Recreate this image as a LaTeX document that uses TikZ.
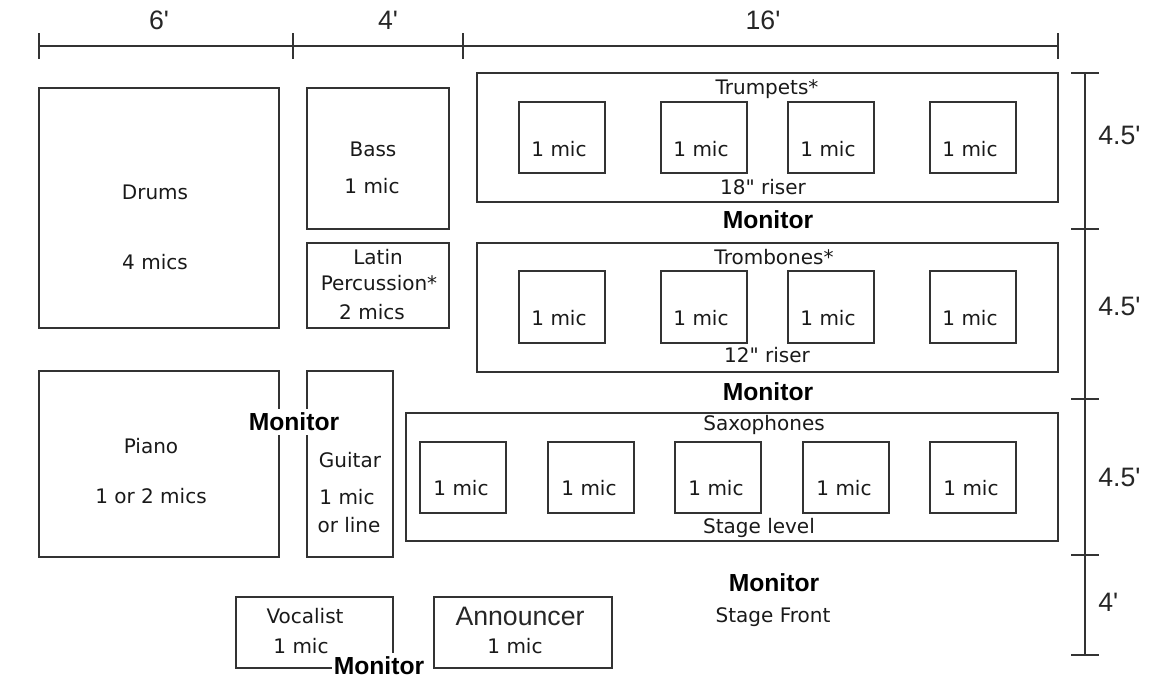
\documentclass[tikz,border=0pt]{standalone}
\usepackage{fontspec}
\setmainfont{DejaVu Sans}
\newfontfamily\arialfont{Liberation Sans}
\usepackage{tikz}
\usetikzlibrary{positioning}

\begin{document}
\begin{tikzpicture}[x=0.75pt, y=-0.75pt,
    wall/.style={draw=black!80, line width=1.1pt},
    txt/.style={inner sep=0pt, text height=10.9pt, text depth=0pt, text=black!90,
      font=\fontsize{15}{18}\selectfont},
    dimtxt/.style={inner sep=0pt, text height=14.3pt, text depth=0pt, text=black!85,
      font=\arialfont\fontsize{20}{24}\selectfont},
    mon/.style={fill=white, inner xsep=1pt, inner ysep=3pt, text height=13.2pt, text depth=0pt,
      font=\arialfont\bfseries\fontsize{18.5}{22}\selectfont}]
  \useasboundingbox (0,0) rectangle (1162,679);
  % Width dimensions
  \draw[wall] (39,46) -- (1058,46);
  \foreach \x in {39,293,463,1058}
    \draw[wall] (\x,33) -- (\x,59);
  \node[dimtxt] (w6) at (159,20) {6\textquotesingle};
  \node[dimtxt] (w4) at (388,20) {4\textquotesingle};
  \node[dimtxt] (w16) at (763,20) {16\textquotesingle};
  % Depth dimensions
  \draw[wall] (1085,73) -- (1085,655);
  \foreach \y in {73,229,399,555,655}
    \draw[wall] (1071,\y) -- (1099,\y);
  \node[dimtxt, anchor=west] (d1) at (1098,135) {4.5\textquotesingle};
  \node[dimtxt, anchor=west] (d2) at (1098,306) {4.5\textquotesingle};
  \node[dimtxt, anchor=west] (d3) at (1098,477) {4.5\textquotesingle};
  \node[dimtxt, anchor=west] (d4) at (1098,602) {4\textquotesingle};
  % Drums
  \draw[wall] (39,88) rectangle (279,328);
  \node[txt] (drums) at (155,192) {Drums};
  \node[txt] (drumsmic) at (155,262) {4 mics};
  % Bass
  \draw[wall] (307,88) rectangle (449,229);
  \node[txt] (bass) at (373,149) {Bass};
  \node[txt] (bassmic) at (372,186) {1 mic};
  % Latin percussion
  \draw[wall] (307,243) rectangle (449,328);
  \node[txt] (latin) at (378,257) {Latin};
  \node[txt] (perc) at (379,283) {Percussion*};
  \node[txt] (percmic) at (372,312) {2 mics};
  % Trumpets, 18" riser
  \draw[wall] (477,73) rectangle (1058,202);
  \node[txt] (trumpets) at (767,87) {Trumpets*};
  \node[txt] (riser18) at (763,187) {18\textquotedbl{} riser};
  \foreach \x [count=\i] in {519,661,788,930} {
    \draw[wall] (\x,102) rectangle ++(86,71);
    \node[txt] (tp\i) at (\x+40,149) {1 mic};
  }
  \node[mon] (montp) at (768,220) {Monitor};
  % Trombones, 12" riser
  \draw[wall] (477,243) rectangle (1058,372);
  \node[txt] (trombones) at (774,257) {Trombones*};
  \node[txt] (riser12) at (767,355) {12\textquotedbl{} riser};
  \foreach \x [count=\i] in {519,661,788,930} {
    \draw[wall] (\x,271) rectangle ++(86,72);
    \node[txt] (tb\i) at (\x+40,318) {1 mic};
  }
  \node[mon] (montb) at (768,392) {Monitor};
  % Saxophones, stage level
  \draw[wall] (406,413) rectangle (1058,541);
  \node[txt] (saxes) at (764,423) {Saxophones};
  \node[txt] (level) at (759,526) {Stage level};
  \foreach \x [count=\i] in {420,548,675,803,930} {
    \draw[wall] (\x,442) rectangle ++(86,71);
    \node[txt] (sx\i) at (\x+41,488) {1 mic};
  }
  \node[mon] (monsx) at (774,583) {Monitor};
  \node[txt] (front) at (773,615) {Stage Front};
  % Piano
  \draw[wall] (39,371) rectangle (279,557);
  \node[txt] (piano) at (151,446) {Piano};
  \node[txt] (pianomic) at (151,496) {1 or 2 mics};
  % Guitar
  \draw[wall] (307,371) rectangle (393,557);
  \node[txt] (guitar) at (350,460) {Guitar};
  \node[txt] (guitarmic) at (347,497) {1 mic};
  \node[txt] (guitarline) at (349,525) {or line};
  \node[mon] (mongt) at (294,422) {Monitor};
  % Vocalist
  \draw[wall] (236,597) rectangle (393,668);
  \node[txt] (vocal) at (305,616) {Vocalist};
  \node[txt] (vocalmic) at (301,646) {1 mic};
  \node[mon] (monvc) at (379,666) {Monitor};
  % Announcer
  \draw[wall] (434,597) rectangle (612,668);
  \node[dimtxt] (announcer) at (520,616) {Announcer};
  \node[txt] (announcermic) at (515,646) {1 mic};
\end{tikzpicture}
\end{document}
